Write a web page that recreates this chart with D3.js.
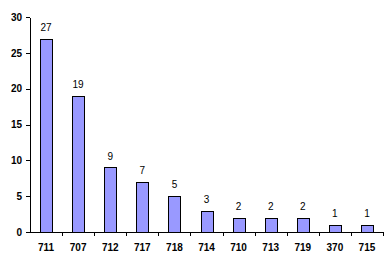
<!DOCTYPE html>
<html>
<head>
  <script src="https://d3js.org/d3.v7.min.js"></script>
  <style>
    body { margin: 0; background: #fff; }
    .axis path, .axis line { stroke: #000; shape-rendering: crispEdges; }
    .axis text { font-family: "Liberation Sans", Arial, sans-serif; font-size: 10px; font-weight: bold; fill: #000; }
    .label { font-family: "Liberation Sans", Arial, sans-serif; font-size: 10px; fill: #000; }
  </style>
</head>
<body>
  <svg id="chart"></svg>
  <script>
    // Data
    const categories = ["711", "707", "712", "717", "718", "714", "710", "713", "719", "370", "715"];
    const values = [27, 19, 9, 7, 5, 3, 2, 2, 2, 1, 1];
    const yTicks = [0, 5, 10, 15, 20, 25, 30];

    const width = 391, height = 264;
    const margin = { top: 17, right: 8, bottom: 32, left: 30 };

    const svg = d3.select("#chart")
      .attr("width", width)
      .attr("height", height);

    const x = d3.scaleBand()
      .domain(categories)
      .range([margin.left, width - margin.right]);

    const y = d3.scaleLinear()
      .domain([0, 30])
      .range([height - margin.bottom, margin.top]);

    const barW = x.bandwidth() * 0.37;

    // Bars
    svg.selectAll("rect.bar")
      .data(values)
      .enter()
      .append("rect")
      .attr("class", "bar")
      .attr("x", (d, i) => Math.round(x(categories[i]) + (x.bandwidth() - barW) / 2) + 0.5)
      .attr("y", d => Math.round(y(d)) + 0.5)
      .attr("width", Math.round(barW))
      .attr("height", d => Math.round(y(0)) - Math.round(y(d)))
      .attr("fill", "#9999ff")
      .attr("stroke", "#000")
      .attr("stroke-width", 1);

    // Value labels
    svg.selectAll("text.label")
      .data(values)
      .enter()
      .append("text")
      .attr("class", "label")
      .attr("x", (d, i) => x(categories[i]) + x.bandwidth() / 2)
      .attr("y", d => y(d) - 8)
      .attr("text-anchor", "middle")
      .text(d => d);

    // Y axis
    svg.append("g")
      .attr("class", "axis")
      .attr("transform", `translate(${margin.left},0)`)
      .call(d3.axisLeft(y).tickValues(yTicks).tickSize(4).tickPadding(4).tickSizeOuter(0));

    // X axis (ticks between categories)
    const xAxis = svg.append("g")
      .attr("class", "axis")
      .attr("transform", `translate(0,${y(0)})`)
      .call(d3.axisBottom(x).tickSize(0).tickPadding(12).tickSizeOuter(0));

    xAxis.selectAll(".sep")
      .data(categories)
      .enter()
      .append("line")
      .attr("class", "sep")
      .attr("x1", d => Math.round(x(d) + x.bandwidth()) + 0.5)
      .attr("x2", d => Math.round(x(d) + x.bandwidth()) + 0.5)
      .attr("y1", 0)
      .attr("y2", 4)
      .attr("stroke", "#000");
  </script>
</body>
</html>
